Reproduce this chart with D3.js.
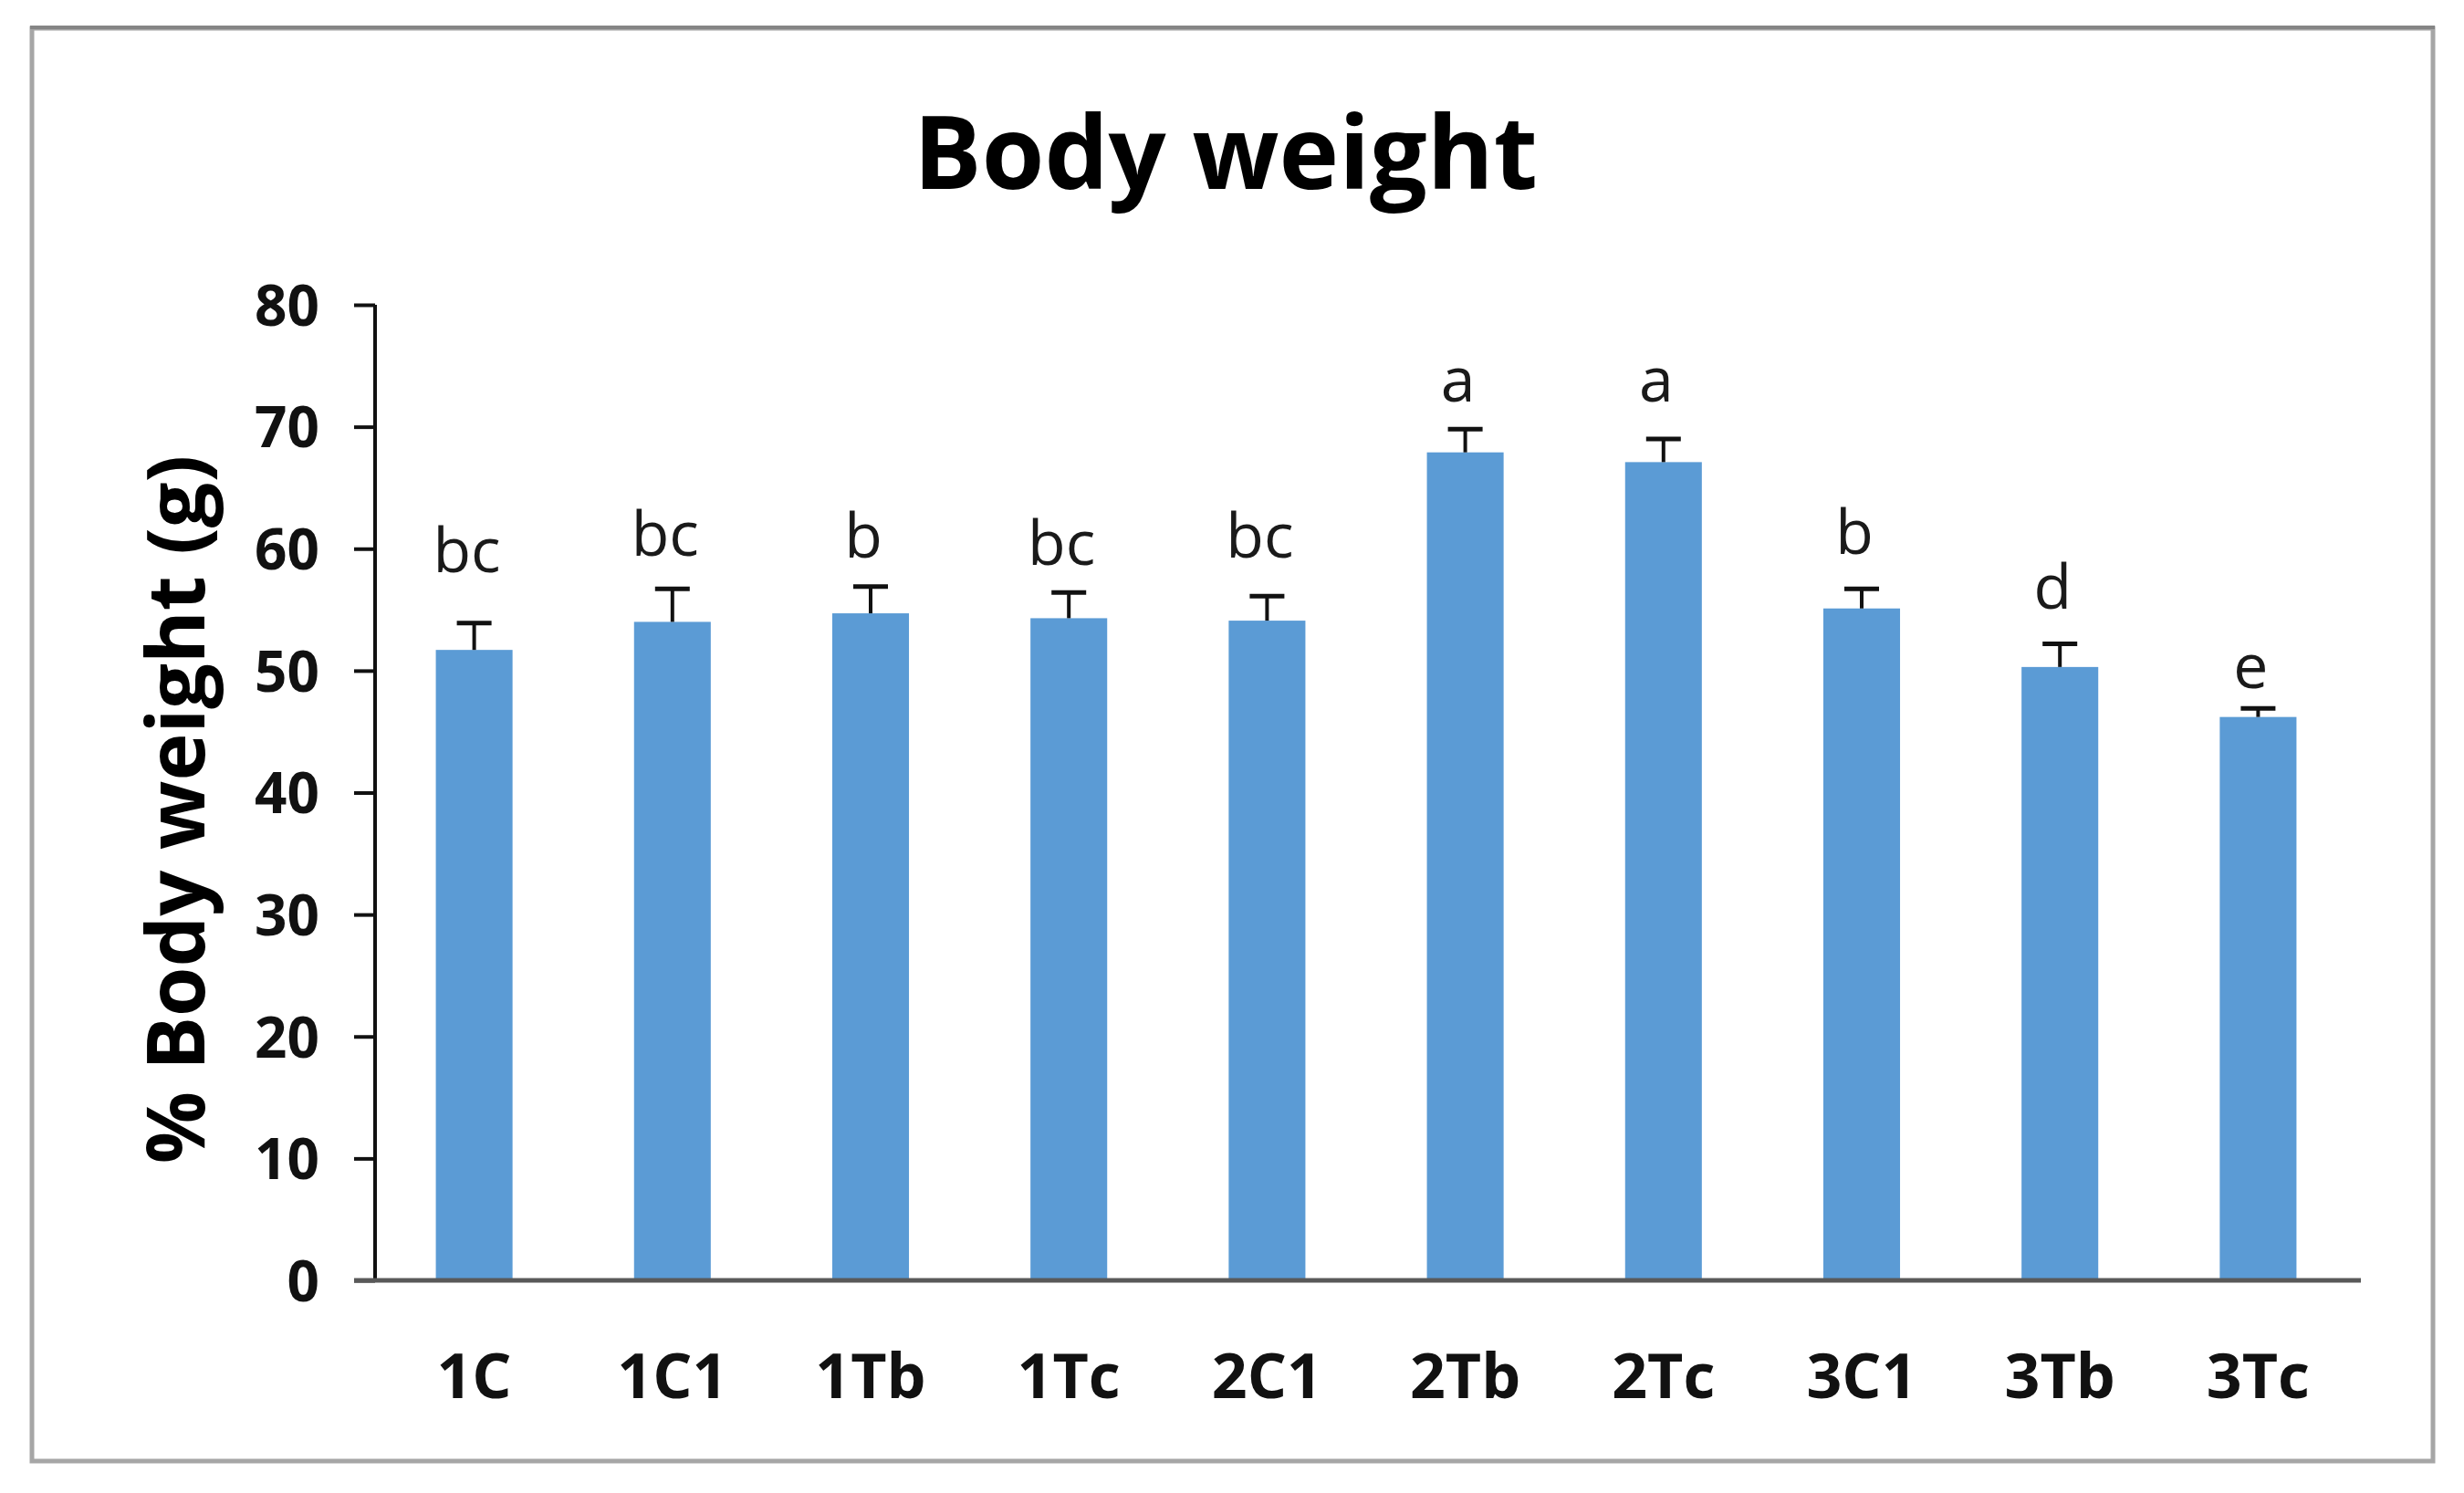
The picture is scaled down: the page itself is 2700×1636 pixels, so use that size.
<!DOCTYPE html>
<html>
<head>
<meta charset="utf-8">
<script src="https://cdn.jsdelivr.net/npm/d3@7"></script>
<style>
  html, body { margin: 0; padding: 0; background: #ffffff; }
  svg { display: block; }
</style>
</head>
<body>
<svg id="chart" width="2700" height="1636"></svg>
<script>
// ---- data ----
const categories = ["1C", "1C1", "1Tb", "1Tc", "2C1", "2Tb", "2Tc", "3C1", "3Tb", "3Tc"];
const values     = [51.7, 54.0, 54.7, 54.3, 54.1, 67.9, 67.1, 55.1, 50.3, 46.2];
const errors     = [2.2, 2.7, 2.2, 2.1, 2.0, 1.9, 1.9, 1.6, 1.9, 0.7];
const letters    = ["bc", "bc", "b", "bc", "bc", "a", "a", "b", "d", "e"];
const letterAt   = [58.1, 59.4, 59.3, 58.7, 59.3, 72.1, 72.1, 59.6, 55.1, 48.6];
const yTicks     = [0, 10, 20, 30, 40, 50, 60, 70, 80];
const titleText  = "Body weight";
const yTitleText = "% Body weight (g)";

// ---- layout ----
const W = 2700, H = 1636;
const plot = { left: 411, right: 2583, top: 334, bottom: 1403 };
const FONT = "'Open Sans', 'DejaVu Sans', sans-serif";

const svg = d3.select("#chart");
svg.append("rect").attr("x", 0).attr("y", 0).attr("width", W).attr("height", H).attr("fill", "#fff");

// chart area border
svg.append("rect")
  .attr("x", 35).attr("y", 31).attr("width", 2631).attr("height", 1570)
  .attr("fill", "none").attr("stroke", "#a6a6a6").attr("stroke-width", 5);
svg.append("line")
  .attr("x1", 33).attr("x2", 2668).attr("y1", 30).attr("y2", 30)
  .attr("stroke", "#858585").attr("stroke-width", 4);

const x = d3.scaleBand()
  .domain(categories)
  .range([plot.left, plot.right])
  .paddingInner(0.613)
  .paddingOuter(0.3065);

const y = d3.scaleLinear().domain([0, 80]).range([plot.bottom, plot.top]);

// title
svg.append("text")
  .attr("x", 1343).attr("y", 207)
  .attr("text-anchor", "middle")
  .style("font-family", FONT).style("font-weight", 700).style("font-size", "111px")
  .attr("fill", "#000")
  .text(titleText);

// bars
const g = svg.append("g");
g.selectAll("rect.bar").data(categories).join("rect")
  .attr("class", "bar")
  .attr("x", d => x(d))
  .attr("width", x.bandwidth())
  .attr("y", (d, i) => y(values[i]))
  .attr("height", (d, i) => y(0) - y(values[i]))
  .attr("fill", "#5b9bd5");

// error bars (upper only)
const cap = 38;
g.selectAll("line.err").data(categories).join("line")
  .attr("class", "err")
  .attr("x1", d => x(d) + x.bandwidth() / 2)
  .attr("x2", d => x(d) + x.bandwidth() / 2)
  .attr("y1", (d, i) => y(values[i]))
  .attr("y2", (d, i) => y(values[i] + errors[i]))
  .attr("stroke", "#111").attr("stroke-width", 4);
g.selectAll("line.cap").data(categories).join("line")
  .attr("class", "cap")
  .attr("x1", d => x(d) + x.bandwidth() / 2 - cap / 2)
  .attr("x2", d => x(d) + x.bandwidth() / 2 + cap / 2)
  .attr("y1", (d, i) => y(values[i] + errors[i]))
  .attr("y2", (d, i) => y(values[i] + errors[i]))
  .attr("stroke", "#111").attr("stroke-width", 5);

// significance letters
g.selectAll("text.sig").data(categories).join("text")
  .attr("class", "sig")
  .attr("x", d => x(d) + x.bandwidth() / 2 - 8)
  .attr("y", (d, i) => y(letterAt[i]))
  .attr("text-anchor", "middle")
  .style("font-family", FONT).style("font-weight", 400).style("font-size", "68px")
  .attr("fill", "#1a1a1a")
  .text((d, i) => letters[i]);

// y axis
const yAxis = d3.axisLeft(y).tickValues(yTicks).tickSize(23).tickPadding(38).tickFormat(d3.format("d"));
const yg = svg.append("g").attr("transform", `translate(${plot.left},0)`).call(yAxis);
yg.select(".domain").attr("stroke", "#111").attr("stroke-width", 4).attr("d", `M0,${plot.top}V${plot.bottom}`);
yg.selectAll(".tick line").attr("stroke", "#111").attr("stroke-width", 4);
yg.selectAll(".tick text")
  .attr("dy", "0.36em")
  .style("font-family", FONT).style("font-weight", 700).style("font-size", "62px")
  .attr("fill", "#111");

// x axis
const xAxis = d3.axisBottom(x).tickSize(0).tickPadding(81);
const xg = svg.append("g").attr("transform", `translate(0,${plot.bottom})`).call(xAxis);
xg.select(".domain").attr("stroke", "#595959").attr("stroke-width", 5)
  .attr("d", `M${plot.left - 23},0H2587`);
xg.selectAll(".tick text")
  .attr("dy", "0.71em")
  .style("font-family", FONT).style("font-weight", 700).style("font-size", "68px")
  .attr("fill", "#111");

// y axis title
svg.append("text")
  .attr("transform", `translate(224,887) rotate(-90)`)
  .attr("text-anchor", "middle")
  .style("font-family", FONT).style("font-weight", 700).style("font-size", "88px")
  .attr("fill", "#000")
  .text(yTitleText);
</script>
</body>
</html>
